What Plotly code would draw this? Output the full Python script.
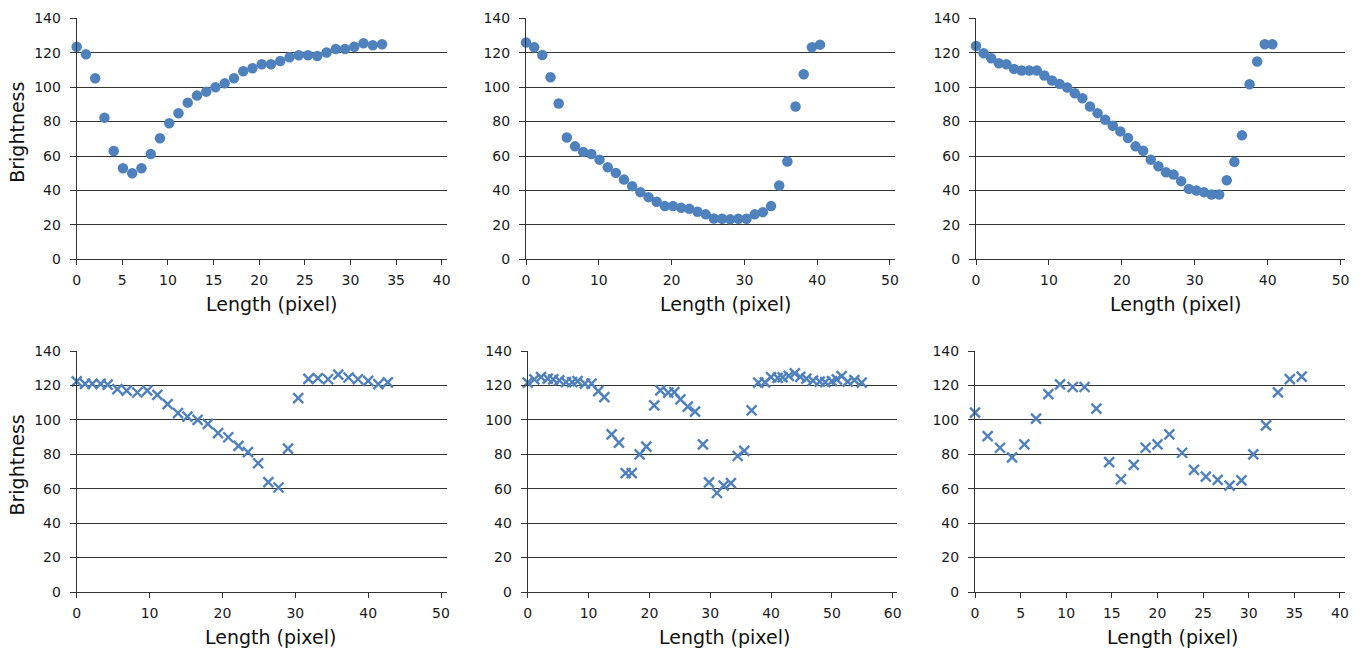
import plotly.graph_objects as go

# ---------------- data ----------------
# Panel 1 (top-left, dots)
p1_x = [i * 1.014 for i in range(34)]
p1_y = [123.5, 119.1, 105.2, 82.3, 62.9, 52.9, 50.0, 52.9, 61.2, 70.3, 79.0, 84.8,
        91.0, 95.1, 97.4, 99.9, 102.2, 105.2, 109.2, 111.0, 113.3, 113.3, 115.2,
        117.4, 118.5, 118.5, 118.1, 120.1, 122.2, 122.2, 123.5, 125.5, 124.3, 124.9]

# Panel 2 (top-middle, dots)
p2_x = [i * 1.122 for i in range(37)]
p2_y = [125.9, 123.2, 118.7, 105.8, 90.5, 70.8, 65.6, 62.4, 61.2, 57.9, 53.5, 50.2,
        46.3, 42.5, 39.0, 36.1, 33.4, 30.9, 30.9, 29.9, 29.3, 27.6, 26.1, 23.7, 23.6,
        23.2, 23.6, 23.6, 26.1, 27.4, 30.9, 42.9, 56.8, 88.8, 107.5, 123.2, 124.7]

# Panel 3 (top-right, dots)
p3_x = [i * 1.042 for i in range(40)]
p3_y = [123.9, 119.7, 116.8, 113.9, 113.3, 110.6, 109.7, 109.7, 109.7, 106.8, 103.9,
        101.9, 99.8, 96.5, 93.6, 88.8, 84.9, 81.1, 77.6, 74.3, 70.5, 65.6, 63.1, 57.9,
        54.1, 50.6, 49.2, 45.4, 40.9, 40.0, 39.0, 37.6, 37.6, 45.9, 56.6, 72.0, 101.7,
        114.9, 124.9, 124.9]

# Panel 4 (bottom-left, crosses)
p4_x = [0, 1.14, 2.15, 3.29, 4.25, 5.58, 6.86, 8.32, 9.69, 11.07, 12.48, 13.9, 15.2,
        16.6, 18.0, 19.4, 20.8, 22.2, 23.5, 24.9, 26.3, 27.7, 29.0, 30.4, 31.8, 33.1,
        34.5, 35.9, 37.3, 38.6, 40.0, 41.4, 42.7]
p4_y = [122.3, 120.9, 120.9, 120.9, 120.5, 117.8, 117.0, 115.9, 117.0, 114.5, 109.1,
        103.9, 101.9, 100.0, 97.7, 92.3, 89.9, 84.9, 81.2, 74.8, 63.8, 60.7, 83.3,
        112.6, 123.8, 124.3, 123.6, 126.3, 124.6, 123.6, 122.7, 120.7, 121.8]

# Panel 5 (bottom-middle, crosses)
p5_x = [0, 1.09, 2.19, 3.29, 4.21, 5.2, 6.3, 7.3, 8.2, 9.4, 10.5, 11.6, 12.6, 13.8,
        15.0, 16.1, 17.1, 18.4, 19.5, 20.8, 21.8, 23.1, 24.1, 25.1, 26.3, 27.5, 28.8,
        29.8, 31.1, 32.2, 33.4, 34.5, 35.6, 36.8, 37.9, 39.0, 40.0, 41.1, 41.9, 42.9,
        43.9, 44.8, 45.8, 46.9, 48.0, 48.9, 50.0, 50.8, 51.6, 52.6, 53.7, 54.9]
p5_y = [121.6, 123.5, 124.8, 123.9, 123.5, 122.9, 121.9, 121.9, 122.5, 121.0, 121.0,
        116.7, 113.2, 91.6, 86.8, 69.1, 69.1, 79.9, 84.5, 108.4, 117.1, 115.8, 116.1,
        111.9, 107.7, 104.8, 85.8, 63.7, 57.5, 61.8, 63.3, 79.0, 82.0, 105.5, 121.6,
        121.8, 124.8, 124.4, 124.7, 125.6, 127.0, 125.0, 124.0, 122.8, 122.2, 121.9,
        122.5, 123.5, 125.4, 122.2, 123.1, 121.6]

# Panel 6 (bottom-right, crosses)
p6_x = [0, 1.39, 2.74, 4.06, 5.41, 6.69, 8.04, 9.32, 10.7, 12.0, 13.3, 14.7, 16.0,
        17.4, 18.7, 20.0, 21.3, 22.7, 24.0, 25.3, 26.6, 27.9, 29.2, 30.5, 31.9, 33.2,
        34.5, 35.8]
p6_y = [104.2, 90.6, 83.8, 78.2, 85.8, 100.7, 115.0, 120.6, 119.1, 119.1, 106.5,
        75.5, 65.5, 73.8, 83.8, 85.8, 91.6, 80.9, 70.9, 67.0, 65.1, 61.8, 64.9, 80.0,
        96.8, 116.0, 123.7, 125.1]

y_ticks = [0, 20, 40, 60, 80, 100, 120, 140]
x_title = "Length (pixel)"
y_title = "Brightness"

# ---------------- layout geometry ----------------
W, H = 1372, 653
BLUE = "#4F81BD"
GRID = "#333333"
FONT = "DejaVu Sans"
TICK_SIZE = 14
TITLE_SIZE = 19

panels = [
    # x, y, marker, x-domain px, y-domain px (top,bottom), xmax range, dtick, title centre px (x, y)
    (p1_x, p1_y, "dot", (76.7, 446.7), (18.3, 259.3), 40.55, 5, (271, 304)),
    (p2_x, p2_y, "dot", (526, 895), (18.3, 259.3), 50.69, 10, (725, 304)),
    (p3_x, p3_y, "dot", (976, 1345), (18.3, 259.3), 50.6, 10, (1175, 304)),
    (p4_x, p4_y, "x", (76.7, 446.7), (351, 592), 50.78, 10, (270, 637)),
    (p5_x, p5_y, "x", (527.7, 897), (351, 592), 60.7, 10, (724, 637)),
    (p6_x, p6_y, "x", (975, 1345), (351, 592), 40.55, 5, (1172, 637)),
]

fig = go.Figure()
layout = dict(
    width=W, height=H,
    margin=dict(l=0, r=0, t=0, b=0),
    paper_bgcolor="white", plot_bgcolor="white",
    showlegend=False,
    font=dict(family=FONT, size=TICK_SIZE, color="#1a1a1a"),
)
annotations = []

for i, (xs, ys, kind, xd, yd, xmax, dt, tc) in enumerate(panels):
    n = i + 1
    xa = "x" if n == 1 else f"x{n}"
    ya = "y" if n == 1 else f"y{n}"
    if kind == "dot":
        marker = dict(symbol="circle", size=10.5, color=BLUE, line=dict(width=0))
    else:
        marker = dict(symbol="x-thin", size=10, color=BLUE,
                      line=dict(width=2.4, color=BLUE))
    fig.add_trace(go.Scatter(x=xs, y=ys, mode="markers", marker=marker,
                             xaxis=xa, yaxis=ya, cliponaxis=False,
                             hoverinfo="x+y"))
    xkey = "xaxis" if n == 1 else f"xaxis{n}"
    ykey = "yaxis" if n == 1 else f"yaxis{n}"
    layout[xkey] = dict(
        domain=[xd[0] / W, xd[1] / W], anchor=ya,
        range=[0, xmax], tick0=0, dtick=dt,
        showgrid=False, zeroline=False,
        showline=True, linecolor=GRID, linewidth=1,
        ticks="outside", ticklen=5, tickcolor=GRID, tickwidth=1,
        ticklabelstandoff=3,
        tickfont=dict(size=TICK_SIZE, family=FONT, color="#1a1a1a"),
        automargin=False, fixedrange=True,
    )
    layout[ykey] = dict(
        domain=[1 - yd[1] / H, 1 - yd[0] / H], anchor=xa,
        range=[0, 140], tickvals=y_ticks,
        showgrid=True, gridcolor=GRID, gridwidth=1,
        zeroline=False,
        showline=True, linecolor=GRID, linewidth=1,
        ticks="outside", ticklen=6, tickcolor=GRID, tickwidth=1,
        ticklabelstandoff=6,
        tickfont=dict(size=TICK_SIZE, family=FONT, color="#1a1a1a"),
        automargin=False, fixedrange=True,
    )
    # x-axis title (placed where the reference draws it)
    annotations.append(dict(
        text=x_title, xref="paper", yref="paper",
        x=tc[0] / W, y=1 - tc[1] / H, xanchor="center", yanchor="middle",
        showarrow=False, font=dict(size=TITLE_SIZE, family=FONT, color="#111"),
    ))
    if n in (1, 4):
        yc = (yd[0] + yd[1]) / 2 - 6
        annotations.append(dict(
            text=y_title, xref="paper", yref="paper", textangle=-90,
            x=17 / W, y=1 - yc / H, xanchor="center", yanchor="middle",
            showarrow=False, font=dict(size=TITLE_SIZE, family=FONT, color="#111"),
        ))

layout["annotations"] = annotations
fig.update_layout(**layout)
fig.write_html("out.html")
